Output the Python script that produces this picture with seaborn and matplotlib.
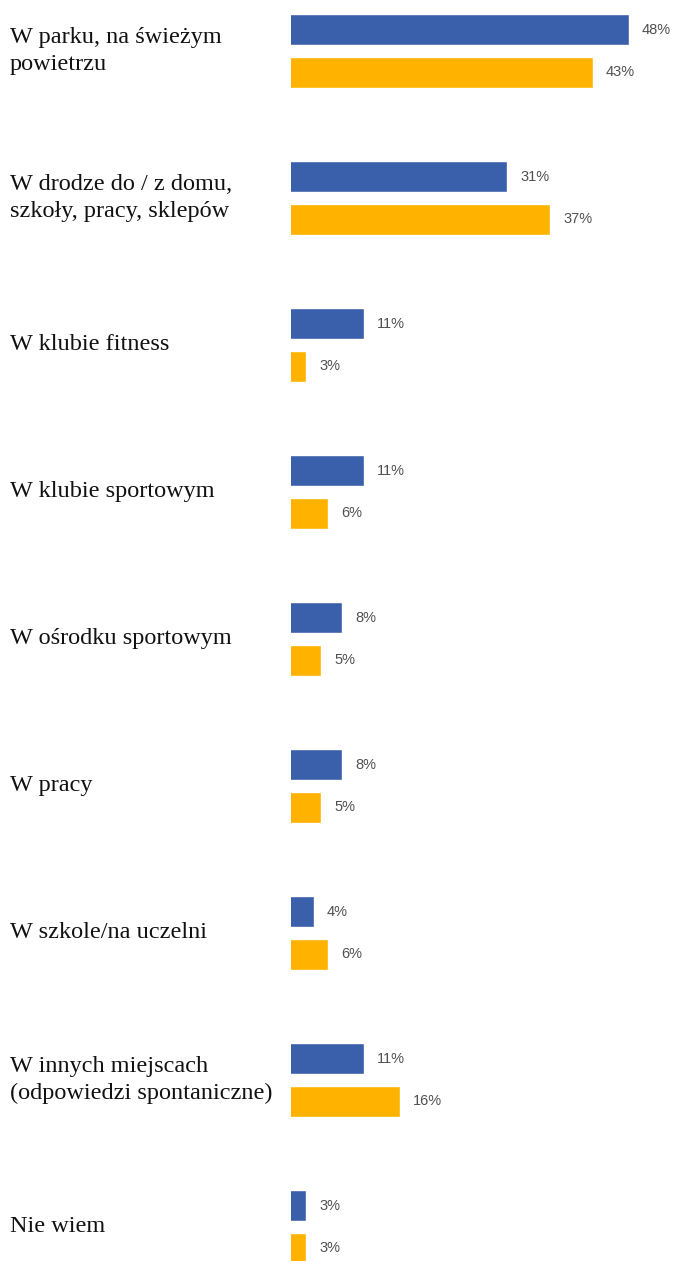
import matplotlib
matplotlib.use("Agg")
import matplotlib.pyplot as plt
import matplotlib.transforms as mtransforms
import seaborn as sns
import pandas as pd

categories = [
    "W parku, na świeżym\npowietrzu",
    "W drodze do / z domu,\nszkoły, pracy, sklepów",
    "W klubie fitness",
    "W klubie sportowym",
    "W ośrodku sportowym",
    "W pracy",
    "W szkole/na uczelni",
    "W innych miejscach\n(odpowiedzi spontaniczne)",
    "Nie wiem",
]
series_names = ["Seria 1", "Seria 2"]
values_blue = [48, 31, 11, 11, 8, 8, 4, 11, 3]
values_orange = [43, 37, 3, 6, 5, 5, 6, 16, 3]
colors = ["#3A60AB", "#FFB300"]

df = pd.DataFrame({
    "cat": categories * 2,
    "series": [series_names[0]] * len(categories) + [series_names[1]] * len(categories),
    "val": values_blue + values_orange,
})

sns.set_theme(style="white")
W, H = 673, 1261
fig = plt.figure(figsize=(W / 100, H / 100), dpi=100)
left = 291 / W
ax = fig.add_axes([left, 0, 1 - left, 1])

sns.barplot(data=df, y="cat", x="val", hue="series", palette=colors,
            orient="h", width=0.585, gap=0.28, ax=ax, legend=False,
            saturation=1)

px_per_unit = 7.16
x0 = 6 / px_per_unit
ax.set_xlim(x0, x0 + (W - 291) / px_per_unit)
ax.set_ylim(8 + 34 / 147, -51 / 147)
ax.set_xlabel("")
ax.set_ylabel("")
ax.set_xticks([])
ax.set_yticks([])
for s in ax.spines.values():
    s.set_visible(False)

for cont in ax.containers:
    ax.bar_label(cont, labels=[f"{v:g}%" for v in cont.datavalues],
                 padding=9.5, fontsize=10.5, color="#505050",
                 family=["Liberation Sans", "DejaVu Sans"])

trans = mtransforms.blended_transform_factory(fig.transFigure, ax.transData)
for i, c in enumerate(categories):
    ax.text(10 / W, i, c, transform=trans, ha="left", va="center",
            fontsize=17.5, family=["Liberation Serif", "DejaVu Serif"],
            color="#111111", linespacing=1.35)

fig.savefig("out.png", dpi=100)
